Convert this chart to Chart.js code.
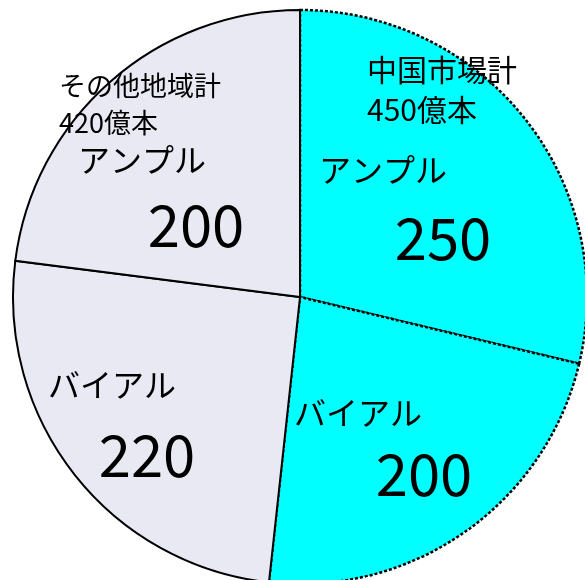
<!DOCTYPE html>
<html>
<head>
<meta charset="utf-8">
<script src="https://cdn.jsdelivr.net/npm/chart.js@4.4.0/dist/chart.umd.min.js"></script>
<style>
html,body{margin:0;padding:0;background:#fff;}
#wrap{width:585px;height:580px;position:relative;overflow:hidden;}
</style>
</head>
<body>
<div id="wrap"><canvas id="c" width="585" height="580"></canvas></div>
<script>
// ---- data ----
const categories = ['アンプル', 'バイアル', 'バイアル', 'アンプル'];
const values = [250, 200, 220, 200];
const regions = ['中国', '中国', 'その他', 'その他'];
const groupTitles = ['中国市場計', 'その他地域計'];
const groupTotals = ['450億本', '420億本'];

// ---- styles ----
const FONT = '"Noto Sans CJK JP", "Noto Sans", sans-serif';
const regionColor = { '中国': '#00FFFF', 'その他': '#E9E9F4' };
const regionDash = { '中国': [3, 2], 'その他': [] };
const regionBorderWidth = { '中国': 2.5, 'その他': 2 };

// label placements (centres, px)
const sliceLabelPos = [
  { cat: [383, 170], val: [443, 238] },
  { cat: [358, 413], val: [424, 474] },
  { cat: [112, 385], val: [147, 455] },
  { cat: [142, 160], val: [196, 225] }
];
const groupLabelPos = [
  { x: 367, y: 70, dy: 40, size: 30 },
  { x: 59, y: 86, dy: 37, size: 27 }
];

const dashPlugin = {
  id: 'arcDash',
  afterDatasetsUpdate(chart) {
    const meta = chart.getDatasetMeta(0);
    meta.data.forEach((arc, i) => {
      if (arc._dashWrapped) return;
      const orig = arc.draw.bind(arc);
      arc.draw = function (ctx) {
        ctx.save();
        ctx.setLineDash(regionDash[regions[i]]);
        orig(ctx);
        ctx.restore();
      };
      arc._dashWrapped = true;
    });
  }
};

const textPlugin = {
  id: 'sliceText',
  afterDatasetsDraw(chart) {
    const ctx = chart.ctx;
    ctx.save();
    ctx.fillStyle = '#000';
    ctx.textBaseline = 'middle';
    ctx.textAlign = 'center';
    categories.forEach((c, i) => {
      const p = sliceLabelPos[i];
      ctx.font = '32px ' + FONT;
      ctx.fillText(c, p.cat[0], p.cat[1]);
      ctx.font = '58px ' + FONT;
      ctx.fillText(String(values[i]), p.val[0], p.val[1]);
    });
    ctx.textAlign = 'left';
    groupTitles.forEach((t, i) => {
      const p = groupLabelPos[i];
      ctx.font = p.size + 'px ' + FONT;
      ctx.fillText(t, p.x, p.y);
      ctx.fillText(groupTotals[i], p.x, p.y + p.dy);
    });
    ctx.restore();
  }
};

new Chart(document.getElementById('c'), {
  type: 'pie',
  data: {
    labels: categories,
    datasets: [{
      data: values,
      backgroundColor: regions.map(r => regionColor[r]),
      borderColor: '#000',
      borderWidth: (ctx) => regionBorderWidth[regions[ctx.dataIndex]],
      borderDash: (ctx) => regionDash[regions[ctx.dataIndex]],
      borderJoinStyle: 'miter'
    }]
  },
  options: {
    responsive: false,
    animation: false,
    devicePixelRatio: 1,
    radius: 287,
    layout: { padding: { left: 15, top: 14, right: 0, bottom: 0 } },
    plugins: { legend: { display: false }, tooltip: { enabled: false } }
  },
  plugins: [dashPlugin, textPlugin]
});
</script>
</body>
</html>
